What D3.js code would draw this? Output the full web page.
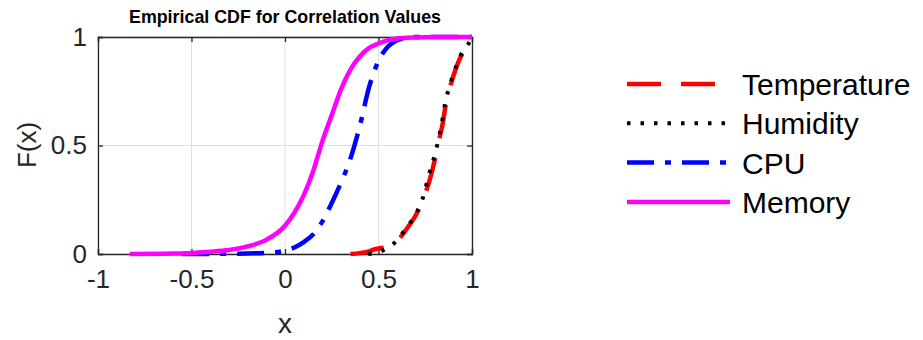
<!DOCTYPE html>
<html>
<head>
<meta charset="utf-8">
<script src="https://cdn.jsdelivr.net/npm/d3@7"></script>
<style>
  body { margin: 0; background: #fff; }
  text { font-family: "Liberation Sans", Arial, sans-serif; fill: #262626; }
</style>
</head>
<body>
<div class="chart"></div>
<script>
// values
var xTicks = [-1, -0.5, 0, 0.5, 1];
var yTicks = [0, 0.5, 1];
var seriesNames = ["Temperature", "Humidity", "CPU", "Memory"];

var tempX = [0.35, 0.4, 0.45, 0.48, 0.5, 0.56, 0.6, 0.65, 0.7, 0.73, 0.77, 0.8, 0.825, 0.843, 0.86, 0.883, 0.912, 0.94, 0.973, 0.996, 1];
var tempF = [0, 0.004, 0.012, 0.022, 0.025, 0.035, 0.06, 0.115, 0.18, 0.235, 0.33, 0.43, 0.53, 0.6, 0.69, 0.77, 0.85, 0.91, 0.955, 0.99, 1];

var humX = [0.445, 0.47, 0.508, 0.54, 0.579, 0.615, 0.651, 0.69, 0.722, 0.745, 0.766, 0.793, 0.82, 0.838, 0.856, 0.879, 0.909, 0.936, 0.971, 0.995, 1];
var humF = [0, 0.003, 0.01, 0.025, 0.046, 0.08, 0.123, 0.17, 0.224, 0.28, 0.355, 0.432, 0.525, 0.6, 0.694, 0.77, 0.849, 0.91, 0.956, 0.99, 1];

var cpuX = [-0.55, -0.3, -0.1, 0, 0.05, 0.1, 0.15, 0.2, 0.25, 0.3, 0.35, 0.4, 0.45, 0.5, 0.55, 0.6, 0.65, 0.7, 1];
var cpuF = [0, 0.001, 0.005, 0.015, 0.03, 0.055, 0.09, 0.15, 0.235, 0.33, 0.44, 0.59, 0.77, 0.89, 0.955, 0.985, 0.996, 1, 1];

var memX = [-0.83, -0.6, -0.5, -0.4, -0.3, -0.2, -0.1, 0, 0.05, 0.1, 0.15, 0.2, 0.25, 0.3, 0.35, 0.4, 0.45, 0.5, 0.55, 0.6, 0.7, 0.8, 1];
var memF = [0, 0.002, 0.005, 0.01, 0.018, 0.035, 0.065, 0.13, 0.19, 0.27, 0.38, 0.52, 0.64, 0.76, 0.85, 0.91, 0.95, 0.97, 0.985, 0.993, 0.998, 1, 1];

// chart area
var svgWidth = 923;
var svgHeight = 340;
var margin = { top: 37, left: 98 };
var width = 374;
var height = 217;

var svg = d3.select(".chart")
    .append("svg")
    .attr("width", svgWidth)
    .attr("height", svgHeight);

var chartGroup = svg.append("g")
    .attr("transform", `translate(${margin.left}, ${margin.top})`);

var xScale = d3.scaleLinear().domain([-1, 1]).range([0, width]);
var yScale = d3.scaleLinear().domain([0, 1]).range([height, 0]);

// grid
chartGroup.selectAll(".xgrid")
    .data(xTicks)
    .enter()
    .append("line")
    .attr("x1", d => xScale(d)).attr("x2", d => xScale(d))
    .attr("y1", 0).attr("y2", height)
    .attr("stroke", "#e0e0e0").attr("stroke-width", 1);

chartGroup.selectAll(".ygrid")
    .data(yTicks)
    .enter()
    .append("line")
    .attr("y1", d => yScale(d)).attr("y2", d => yScale(d))
    .attr("x1", 0).attr("x2", width)
    .attr("stroke", "#e0e0e0").attr("stroke-width", 1);

// axes, ticks pointing inwards; plain hyphen for negatives like matlab
var fmt = d => String(d);
var bottomAxis = d3.axisBottom(xScale).tickValues(xTicks).tickSize(-5).tickPadding(16).tickFormat(fmt);
var topAxis = d3.axisTop(xScale).tickValues(xTicks).tickSize(-5).tickFormat("");
var leftAxis = d3.axisLeft(yScale).tickValues(yTicks).tickSize(-5).tickPadding(11).tickFormat(fmt);
var rightAxis = d3.axisRight(yScale).tickValues(yTicks).tickSize(-5).tickFormat("");

function styleAxis(g) {
    g.select(".domain").attr("stroke", "#262626").attr("stroke-width", 1.3);
    g.selectAll(".tick line").attr("stroke", "#262626").attr("stroke-width", 1.3);
    g.selectAll(".tick text").attr("fill", "#262626").style("font-size", "26px")
        .style("font-family", "Liberation Sans, Arial, sans-serif");
}

chartGroup.append("g").attr("transform", `translate(0, ${height})`).call(bottomAxis).call(styleAxis);
chartGroup.append("g").call(topAxis).call(styleAxis);
chartGroup.append("g").call(leftAxis).call(styleAxis);
chartGroup.append("g").attr("transform", `translate(${width}, 0)`).call(rightAxis).call(styleAxis);

// series
var series = [
    { name: seriesNames[0], xs: tempX, fs: tempF, color: "#ff0000", dash: "34,20", w: 4.5 },
    { name: seriesNames[1], xs: humX, fs: humF, color: "#000000", dash: "3.5,10", w: 4 },
    { name: seriesNames[2], xs: cpuX, fs: cpuF, color: "#0000ff", dash: "27,11,6,11", w: 4.5 },
    { name: seriesNames[3], xs: memX, fs: memF, color: "#ff00ff", dash: null, w: 4.5 }
];

var line = d3.line()
    .x(d => xScale(d[0]))
    .y(d => yScale(d[1]))
    .curve(d3.curveMonotoneX);

series.forEach(function(s) {
    var pts = s.xs.map((x, i) => [x, s.fs[i]]);
    chartGroup.append("path")
        .datum(pts)
        .attr("d", line)
        .attr("fill", "none")
        .attr("stroke", s.color)
        .attr("stroke-width", s.w)
        .attr("stroke-dasharray", s.dash);
});

// title and axis labels
svg.append("text")
    .attr("x", margin.left + width / 2)
    .attr("y", 23)
    .attr("text-anchor", "middle")
    .attr("textLength", 312)
    .attr("lengthAdjust", "spacingAndGlyphs")
    .style("font-size", "19px")
    .style("font-weight", "bold")
    .style("fill", "#000")
    .text("Empirical CDF for Correlation Values");

svg.append("text")
    .attr("x", margin.left + width / 2)
    .attr("y", 333)
    .attr("text-anchor", "middle")
    .style("font-size", "28px")
    .text("x");

svg.append("text")
    .attr("transform", `translate(36, 145) rotate(-90)`)
    .attr("text-anchor", "middle")
    .style("font-size", "26px")
    .text("F(x)");

// legend
var legend = svg.append("g").attr("transform", "translate(627, 84)");
series.forEach(function(s, i) {
    var row = legend.append("g").attr("transform", `translate(0, ${i * 39.3})`);
    row.append("line")
        .attr("x1", 0).attr("x2", 103)
        .attr("y1", 0).attr("y2", 0)
        .attr("stroke", s.color)
        .attr("stroke-width", s.w)
        .attr("stroke-dasharray", s.dash);
    row.append("text")
        .attr("x", 115)
        .attr("y", 11)
        .style("font-size", "30px")
        .style("fill", "#000")
        .text(s.name);
});
</script>
</body>
</html>
